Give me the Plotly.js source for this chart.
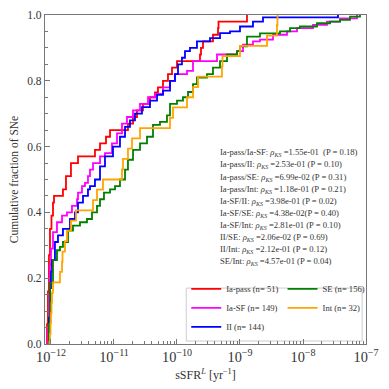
<!DOCTYPE html>
<html>
<head>
<meta charset="utf-8">
<script src="https://cdn.plot.ly/plotly-3.0.1.min.js"></script>
<style>
  html, body { margin: 0; padding: 0; background: #fff; }
  #chart { width: 389px; height: 389px; }
</style>
</head>
<body>
<div id="chart"></div>
<script>
// Cumulative distributions of sSFR^L per SN class (log10 sSFR)
const iaPassLog = [-12.071, -12.063, -12.048, -12.032, -12.016, -11.992, -11.968, -11.952, -11.810, -11.762,
  -11.683, -11.571, -11.302, -11.222, -11.127, -11.063, -10.778, -10.698, -10.635, -10.540,
  -10.429, -10.349, -10.302, -10.222, -10.143, -10.079, -10.000, -9.635, -9.619, -9.587,
  -9.429, -9.349, -9.341, -8.889];
const iaPassCdf = [0, 0.06, 0.16, 0.27, 0.35, 0.39, 0.43, 0.45, 0.47, 0.51,
  0.55, 0.57, 0.59, 0.61, 0.63, 0.65, 0.67, 0.69, 0.71, 0.73,
  0.75, 0.765, 0.78, 0.80, 0.82, 0.84, 0.86, 0.88, 0.90, 0.92,
  0.94, 0.96, 0.98, 1.0];

const iaSfLog = [-12.056, -12.048, -12.032, -12.016, -12.0, -11.968, -11.905, -11.825, -11.746, -11.667,
  -11.587, -11.571, -11.508, -11.460, -11.413, -11.381, -11.333, -11.222, -11.143, -11.032,
  -10.952, -10.873, -10.794, -10.698, -10.587, -10.460, -10.349, -10.222, -10.111, -10.032,
  -9.841, -9.746, -9.365, -9.048, -8.952, -8.794, -8.683, -8.476, -8.254, -8.095,
  -7.841, -7.619, -7.413, -7.143];
const iaSfCdf = [0, 0.05, 0.15, 0.24, 0.29, 0.34, 0.37, 0.39, 0.40, 0.42,
  0.44, 0.46, 0.48, 0.49, 0.51, 0.53, 0.55, 0.57, 0.58, 0.61,
  0.64, 0.67, 0.69, 0.71, 0.73, 0.75, 0.76, 0.78, 0.80, 0.82,
  0.83, 0.86, 0.88, 0.89, 0.91, 0.92, 0.925, 0.94, 0.95, 0.96,
  0.97, 0.98, 0.99, 1.0];

const iiLog = [-12.048, -12.032, -12.016, -12.0, -11.984, -11.937, -11.889, -11.810, -11.698, -11.619,
  -11.571, -11.492, -11.413, -11.381, -11.302, -11.222, -11.143, -11.016, -10.905, -10.825,
  -10.746, -10.667, -10.556, -10.429, -10.317, -10.222, -10.111, -10.032, -9.984, -9.921,
  -9.873, -9.794, -9.683, -9.476, -9.317, -9.159, -9.0, -8.794, -8.635, -7.444];
const iiCdf = [0, 0.08, 0.17, 0.22, 0.255, 0.31, 0.33, 0.35, 0.38, 0.40,
  0.43, 0.45, 0.47, 0.48, 0.50, 0.54, 0.57, 0.60, 0.63, 0.66,
  0.68, 0.70, 0.72, 0.74, 0.757, 0.77, 0.80, 0.82, 0.85, 0.87,
  0.89, 0.90, 0.92, 0.93, 0.945, 0.95, 0.965, 0.98, 0.993, 1.0];

const seLog = [-12.048, -12.032, -12.016, -11.968, -11.905, -11.857, -11.810, -11.730, -11.651, -11.540,
  -11.429, -11.349, -11.270, -11.222, -11.159, -11.063, -10.984, -10.905, -10.825, -10.778,
  -10.698, -10.587, -10.476, -10.381, -10.270, -10.159, -10.111, -10.0, -9.905, -9.825,
  -9.746, -9.683, -9.524, -9.429, -9.317, -9.206, -9.048, -9.0, -8.889, -8.683,
  -8.365, -8.206, -8.048, -7.778, -7.571, -7.413, -7.254, -7.095];
const seCdf = [0, 0.06, 0.185, 0.255, 0.285, 0.295, 0.31, 0.345, 0.36, 0.37,
  0.38, 0.40, 0.42, 0.44, 0.46, 0.47, 0.48, 0.50, 0.53, 0.56,
  0.59, 0.61, 0.63, 0.666, 0.675, 0.695, 0.73, 0.74, 0.75, 0.766,
  0.79, 0.81, 0.82, 0.84, 0.86, 0.88, 0.89, 0.905, 0.934, 0.944,
  0.95, 0.96, 0.965, 0.975, 0.98, 0.985, 0.995, 1.0];

const intLog = [-12.032, -12.016, -12.008, -12.0, -11.992, -11.984, -11.968, -11.857, -11.825, -11.817,
  -11.778, -11.746, -11.683, -11.603, -11.333, -11.270, -11.175, -10.873, -10.857, -10.778,
  -10.714, -10.587, -10.111, -10.063, -9.841, -9.746, -9.667, -9.286, -9.278, -9.0,
  -8.571, -8.413, -8.405];
const intCdf = [0, 0.031, 0.0625, 0.094, 0.125, 0.156, 0.1875, 0.219, 0.25, 0.281,
  0.3125, 0.344, 0.375, 0.406, 0.4375, 0.469, 0.5, 0.531, 0.5625, 0.594,
  0.625, 0.656, 0.6875, 0.719, 0.75, 0.781, 0.8125, 0.844, 0.875, 0.906,
  0.9375, 0.969, 1.0];

const seriesNames = ['Ia-pass (n= 51)', 'Ia-SF (n= 149)', 'II (n= 144)', 'SE (n= 156)', 'Int (n= 32)'];
const seriesColors = ['#ff0000', '#ff00ff', '#0000ff', '#008000', '#ffa500'];

const ksLines = [
  'Ia-pass/Ia-SF: <i>ρ<sub>KS</sub></i> =1.55e-01  (P = 0.18)',
  'Ia-pass/II: <i>ρ<sub>KS</sub></i> =2.53e-01 (P = 0.10)',
  'Ia-pass/SE: <i>ρ<sub>KS</sub></i> =6.99e-02 (P = 0.31)',
  'Ia-pass/Int: <i>ρ<sub>KS</sub></i> =1.18e-01 (P = 0.21)',
  'Ia-SF/II: <i>ρ<sub>KS</sub></i> =3.98e-01 (P = 0.02)',
  'Ia-SF/SE: <i>ρ<sub>KS</sub></i> =4.38e-02(P = 0.40)',
  'Ia-SF/Int: <i>ρ<sub>KS</sub></i> =2.81e-01 (P = 0.10)',
  'II/SE: <i>ρ<sub>KS</sub></i> =2.06e-02 (P = 0.69)',
  'II/Int: <i>ρ<sub>KS</sub></i> =2.12e-01 (P = 0.12)',
  'SE/Int: <i>ρ<sub>KS</sub></i> =4.57e-01 (P = 0.04)',
];

const FONT = 'Liberation Serif, DejaVu Serif, serif';
const logData = [iaPassLog, iaSfLog, iiLog, seLog, intLog];
const cdfData = [iaPassCdf, iaSfCdf, iiCdf, seCdf, intCdf];

const traces = logData.map((lx, i) => ({
  x: lx.map(v => Math.pow(10, v)),
  y: cdfData[i],
  type: 'scatter',
  mode: 'lines',
  name: seriesNames[i],
  line: { color: seriesColors[i], width: 1.8, shape: 'hv' },
  // first three in left legend column, the rest in the right one
  legend: i < 3 ? 'legend' : 'legend2',
}));

const annotations = ksLines.map((t, i) => ({
  text: t,
  xref: 'paper', yref: 'paper',
  x: 0.54, y: 0.581 - i * 0.0368,
  xanchor: 'left', yanchor: 'middle',
  showarrow: false,
  font: { family: FONT, size: 8.6, color: '#333' },
}));

const legendStyle = {
  bgcolor: 'rgba(0,0,0,0)',
  borderwidth: 0,
  font: { family: FONT, size: 8.6, color: '#333' },
  xanchor: 'left', yanchor: 'bottom',
  tracegroupgap: 0,
};

const layout = {
  width: 389, height: 389,
  margin: { l: 45, r: 23, t: 15, b: 45 },
  paper_bgcolor: '#fff',
  plot_bgcolor: '#fff',
  font: { family: FONT, color: '#333' },
  showlegend: true,
  legend: { ...legendStyle, x: 0.44, y: 0.008 },
  legend2: { ...legendStyle, x: 0.74, y: 0.066 },
  xaxis: {
    type: 'log',
    range: [-12.095, -7],
    dtick: 1,
    exponentformat: 'power',
    showexponent: 'all',
    showline: true, mirror: true, linecolor: '#777', linewidth: 1.2,
    showgrid: false, zeroline: false,
    ticks: 'inside', ticklen: 5, tickcolor: '#777',
    minor: { ticks: 'inside', ticklen: 3, tickcolor: '#777', showgrid: false },
    tickfont: { family: FONT, size: 11.5, color: '#333' },
    title: { text: 'sSFR<sup><i>L</i></sup> [yr<sup>−1</sup>]', font: { family: FONT, size: 12, color: '#333' }, standoff: 6 },
  },
  yaxis: {
    range: [0, 1],
    dtick: 0.2,
    tickformat: '.1f',
    showline: true, mirror: true, linecolor: '#777', linewidth: 1.2,
    showgrid: false, zeroline: false,
    ticks: 'inside', ticklen: 5, tickcolor: '#777',
    minor: { ticks: 'inside', ticklen: 3, tickcolor: '#777', dtick: 0.05, showgrid: false },
    tickfont: { family: FONT, size: 11.5, color: '#333' },
    title: { text: 'Cumulative fraction of SNe', font: { family: FONT, size: 11.5, color: '#333' }, standoff: 6 },
  },
  shapes: [{
    type: 'rect', xref: 'paper', yref: 'paper',
    x0: 0.44, x1: 0.988, y0: 0.009, y1: 0.17,
    line: { color: '#ccc', width: 1 },
    fillcolor: 'rgba(255,255,255,0.8)',
    layer: 'below',
  }],
  annotations,
};

Plotly.newPlot('chart', traces, layout, { displayModeBar: false, staticPlot: true });
</script>
</body>
</html>
